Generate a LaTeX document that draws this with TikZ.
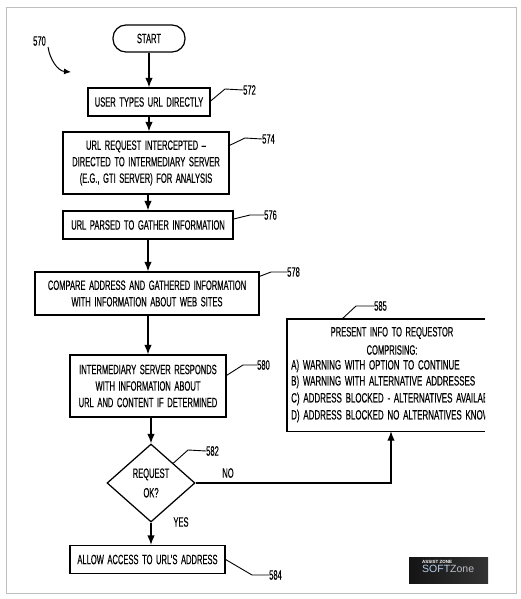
\documentclass[tikz,border=0pt]{standalone}
\usepackage{fontspec}
\setmainfont[FakeStretch=0.56,WordSpace=1.7,FakeBold=0.3]{Liberation Sans}
\newfontfamily\wideinfo[FakeStretch=0.59,WordSpace=1.7,FakeBold=0.3]{Liberation Sans}
\newfontfamily\logofont{Liberation Sans}
\usetikzlibrary{arrows.meta,shapes.geometric,calc}
\definecolor{logosoft}{HTML}{B5CDEB}
\definecolor{logozone}{HTML}{B8BCC4}
\tikzset{
  box/.style={draw=black,line width=1.25pt,fill=white,inner sep=0pt,align=center,font=\fontsize{13.5}{16.5}\selectfont,text=black},
  ref/.style={inner sep=0pt,font=\fontsize{13.5}{14}\selectfont,text=black},
  lab/.style={inner sep=0pt,font=\fontsize{13.5}{14}\selectfont,text=black},
  flow/.style={line width=1.25pt,-{Latex[length=9.5pt,width=7.5pt]}},
  leader/.style={line width=0.9pt},
  txt/.style={inner sep=0pt,anchor=west,font=\fontsize{13.5}{14}\selectfont,text=black},
  infotxt/.style={inner sep=0pt,anchor=west,font=\wideinfo\fontsize{13.5}{14}\selectfont,text=black}
}
\begin{document}
\begin{tikzpicture}[x=1pt,y=-1pt]
\useasboundingbox (0,0) rectangle (520,599);
\fill[white] (0,0) rectangle (520,599);
\draw[black!25,line width=0.8pt] (6.5,7.5) rectangle (516,593);

\node[box,rounded corners=13pt,minimum width=72pt,minimum height=27pt] (start) at (149,38.5) {START};
\node[box,minimum width=122pt,minimum height=28pt] (n572) at (149,102) {USER TYPES URL DIRECTLY};
\node[box,minimum width=166pt,minimum height=62pt] (n574) at (146,163) {URL REQUEST INTERCEPTED --\\DIRECTED TO INTERMEDIARY SERVER\\(E.G., GTI SERVER) FOR ANALYSIS};
\node[box,minimum width=170pt,minimum height=28pt] (n576) at (148,225) {URL PARSED TO GATHER INFORMATION};
\node[box,minimum width=224pt,minimum height=43pt] (n578) at (147,293.5) {COMPARE ADDRESS AND GATHERED INFORMATION\\WITH INFORMATION ABOUT WEB SITES};
\node[box,minimum width=156pt,minimum height=62pt] (n580) at (148,386) {INTERMEDIARY SERVER RESPONDS\\WITH INFORMATION ABOUT\\URL AND CONTENT IF DETERMINED};
\node[box,diamond,minimum width=88pt,minimum height=78pt] (n582) at (151,483) {REQUEST\\[3pt]OK?};
\node[box,minimum width=155pt,minimum height=28pt] (n584) at (147.5,559.5) {ALLOW ACCESS TO URL'S ADDRESS};
\node[inner sep=0pt,minimum width=198pt,minimum height=112pt] (n585) at (386,375) {};

\draw[line width=1.4pt] (n585.north east) -- (n585.north west) -- (n585.south west) -- (n585.south east);
\begin{scope}
\clip (n585.north west) rectangle (n585.south east);
\node[txt,anchor=center] (t1) at (392,333) {PRESENT INFO TO REQUESTOR};
\node[txt,anchor=center] (t2) at (392,350) {COMPRISING:};
\node[infotxt] (t3) at (291,366) {A) WARNING WITH OPTION TO CONTINUE};
\node[infotxt] (t4) at (291,382) {B) WARNING WITH ALTERNATIVE ADDRESSES};
\node[infotxt] (t5) at (291,399) {C) ADDRESS BLOCKED - ALTERNATIVES AVAILABLE};
\node[infotxt] (t6) at (291,416) {D) ADDRESS BLOCKED NO ALTERNATIVES KNOWN};
\end{scope}

\draw[flow] (start) -- (n572);
\draw[flow] (n572) -- (n574.north -| n572);
\draw[flow] (n574.south -| n576) -- (n576);
\draw[flow] (n576) -- (n578.north -| n576);
\draw[flow] (n578.south -| n580) -- (n580);
\draw[flow] (n580.south -| n582) -- (n582);
\draw[flow] (n582.south) -- (n582.south |- n584.north);
\draw[flow] (n582.east) -| (n585.south -| 391,0);

\node[ref,anchor=west] (r570) at (33,41) {570};
\node[ref,anchor=west] (r572) at (243,90) {572};
\node[ref,anchor=west] (r574) at (262,139) {574};
\node[ref,anchor=west] (r576) at (264,215) {576};
\node[ref,anchor=west] (r578) at (287,272) {578};
\node[ref,anchor=west] (r580) at (257,365) {580};
\node[ref,anchor=west] (r582) at (206,451) {582};
\node[ref,anchor=west] (r584) at (269,575) {584};
\node[ref,anchor=west] (r585) at (374,306) {585};
\node[lab] (no) at (228,473) {NO};
\node[lab] (yes) at (181,522) {YES};

\coordinate (c570) at (48,47);
\draw[line width=1pt,-{Latex[length=7pt,width=6pt]}] (c570) .. controls (50,60) and (58,71) .. (71,72);
\draw[leader] (n572.east) ++(0,-1) -- (225,89) -- (r572.west);
\draw[leader] (n574.north east) ++(0,14) -- (245,138) -- (r574.west);
\draw[leader] (n576.east) ++(0,-6) -- (250,215) -- (r576.west);
\draw[leader] (n578.north east) ++(0,5) -- (271,272) -- (r578.west);
\draw[leader] (n580.north east) ++(0,21) -- (243,365) -- (r580.west);
\draw[leader] (n582.north east) -- (188,450) -- (r582.west);
\draw[leader] (n584.east) -- (252,575) -- (r584.west);
\coordinate (c585) at (342,319);
\draw[leader] (c585) -- (356,306) -- (r585.west);

\fill[left color=black!92,right color=black!80] (409,557) rectangle (488,583);
\node[inner sep=0pt,anchor=west,text=white,font=\logofont\fontsize{4.5}{5}\selectfont\bfseries] (logo1) at (422,561.5) {ASSIST ZONE};
\node[inner sep=0pt,anchor=west,font=\logofont\fontsize{10.5}{12}\selectfont] (logo2) at (422,569) {\textcolor{logosoft}{SOFT}\textcolor{logozone}{Zone}};
\end{tikzpicture}
\end{document}
